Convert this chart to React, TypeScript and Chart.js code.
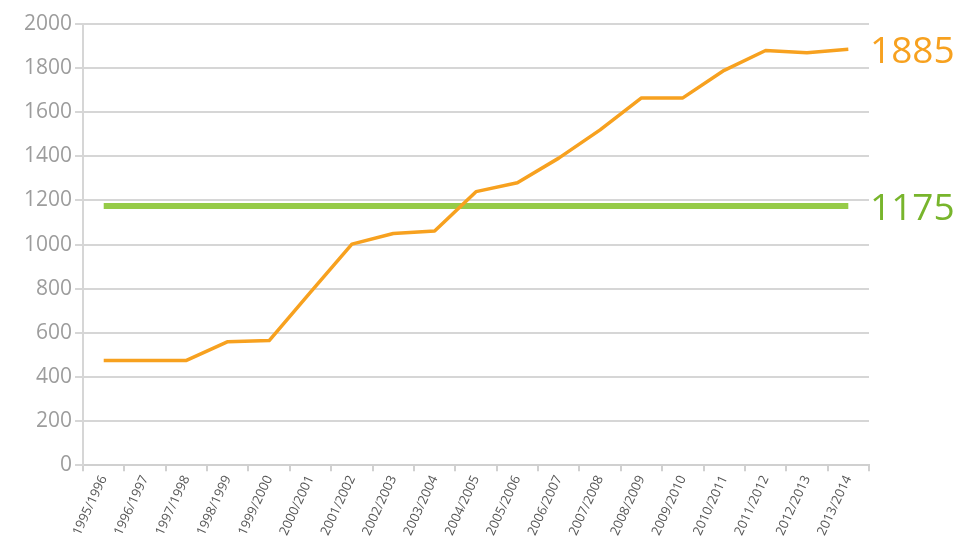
import React, { useEffect, useRef } from "react";
import { Chart, registerables } from "chart.js";

Chart.register(...registerables);

const categories = [
  "1995/1996", "1996/1997", "1997/1998", "1998/1999", "1999/2000", "2000/2001",
  "2001/2002", "2002/2003", "2003/2004", "2004/2005", "2005/2006", "2006/2007",
  "2007/2008", "2008/2009", "2009/2010", "2010/2011", "2011/2012", "2012/2013", "2013/2014",
];
const seriesValues = [
  475, 475, 475, 560, 565, 785, 1002, 1050, 1062, 1240, 1280, 1392,
  1520, 1665, 1665, 1790, 1880, 1870, 1885,
];
const referenceValue = 1175;
const endLabels = ["1885", "1175"];
const yTicks = [0, 200, 400, 600, 800, 1000, 1200, 1400, 1600, 1800, 2000];

const ORANGE = "#f7a11f";
const GREEN = "#96cb48";
const GREEN_TEXT = "#78b52c";

const endLabelPlugin = {
  id: "endLabels",
  afterDatasetsDraw(chart: any) {
    const ctx = chart.ctx;
    const colors = [ORANGE, GREEN_TEXT];
    chart.data.datasets.forEach((ds: any, i: number) => {
      const meta = chart.getDatasetMeta(i);
      const pt = meta.data[meta.data.length - 1];
      if (!pt) return;
      ctx.save();
      ctx.font = "37px 'Open Sans', sans-serif";
      ctx.fillStyle = colors[i];
      ctx.textAlign = "left";
      ctx.textBaseline = "middle";
      ctx.fillText(endLabels[i], chart.chartArea.right + 1, pt.y + 3);
      ctx.restore();
    });
  },
};

export default function App() {
  const canvasRef = useRef<HTMLCanvasElement>(null);
  useEffect(() => {
    const chart = new Chart(canvasRef.current!, {
      type: "line",
      data: {
        labels: categories,
        datasets: [
          {
            data: seriesValues,
            borderColor: ORANGE,
            borderWidth: 3.5,
            pointRadius: 0,
            tension: 0,
            borderJoinStyle: "round",
          },
          {
            data: categories.map(() => referenceValue),
            borderColor: GREEN,
            borderWidth: 6,
            pointRadius: 0,
          },
        ],
      },
      options: {
        animation: false,
        responsive: false,
        layout: { padding: { top: 24, right: 92, left: 21, bottom: 9 } },
        plugins: { legend: { display: false }, tooltip: { enabled: false } },
        scales: {
          x: {
            offset: true,
            grid: {
              offset: true,
              drawOnChartArea: false,
              drawTicks: true,
              tickLength: 6,
              color: "#d0d0d0",
              lineWidth: 2,
            },
            border: { color: "#d0d0d0", width: 2 },
            ticks: {
              color: "#555",
              font: { family: "'Open Sans', sans-serif", size: 13 },
              minRotation: 65,
              maxRotation: 65,
              autoSkip: false,
              padding: 2,
            },
          },
          y: {
            min: 0,
            max: 2000,
            afterBuildTicks: (axis: any) => {
              axis.ticks = yTicks.map((v) => ({ value: v }));
            },
            grid: { color: "#d6d6d6", lineWidth: 2, tickLength: 8 },
            border: { color: "#d6d6d6", width: 2 },
            ticks: {
              color: "#9d9d9d",
              font: { family: "'Open Sans', sans-serif", size: 21 },
              padding: 3,
              callback: (v: any) => String(v),
            },
          },
        },
      },
      plugins: [endLabelPlugin],
    });
    return () => chart.destroy();
  }, []);
  return (
    <div style={{ position: "fixed", left: 0, top: 0, width: 961, height: 549, background: "#fff" }}>
      <canvas ref={canvasRef} width={961} height={549} />
    </div>
  );
}
